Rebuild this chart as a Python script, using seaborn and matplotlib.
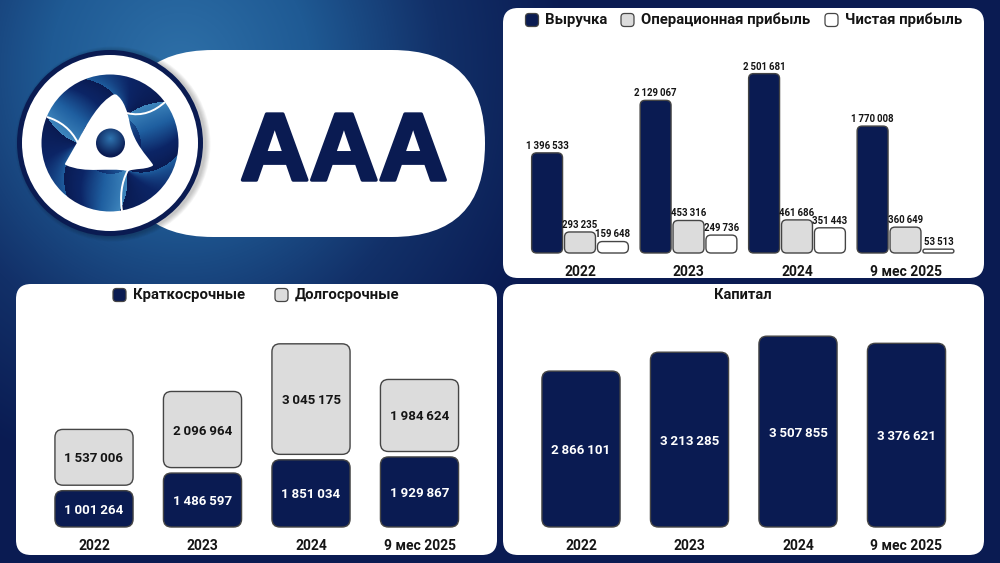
import numpy as np
import pandas as pd
import seaborn as sns
import matplotlib.pyplot as plt
import matplotlib.patheffects as pe
from matplotlib.colors import LinearSegmentedColormap
from matplotlib.patches import Circle, FancyBboxPatch, PathPatch
from matplotlib.path import Path

# Data
periods = ['2022', '2023', '2024', '9 мес 2025']
revenue = [1396533, 2129067, 2501681, 1770008]
op_profit = [293235, 453316, 461686, 360649]
net_profit = [159648, 249736, 351443, 53513]
short_term = [1001264, 1486597, 1851034, 1929867]
long_term = [1537006, 2096964, 3045175, 1984624]
capital = [2866101, 3213285, 3507855, 3376621]

NAVY = '#0a1b52'
GRAY = '#dcdcdc'
EDGE = '#454545'
FONT = 'Roboto'

sns.set_theme(style='white')
plt.rcParams['font.family'] = [FONT, 'DejaVu Sans']

fig = plt.figure(figsize=(10, 5.63), dpi=100)
W, H = 1000, 563


def px_axes(left, top, right, bottom):
    # axes from pixel box, y counted from top of the picture
    a = fig.add_axes([left / W, 1 - bottom / H, (right - left) / W, (bottom - top) / H])
    a.patch.set_alpha(0)
    return a


def fmt(v):
    return f'{int(round(v)):,}'.replace(',', '\u2009')


def round_box(a, x, y, w, h, r, **kw):
    a.add_patch(FancyBboxPatch((x, y), w, h, boxstyle=f'round,pad=0,rounding_size={r}', **kw))


# Background
bg = px_axes(0, 0, W, H)
bg.set_axis_off()
yy, xx = np.mgrid[0:H, 0:W]
dist = np.sqrt(((xx - 180) / 390) ** 2 + ((yy - 70) / 420) ** 2)
back_cmap = LinearSegmentedColormap.from_list('back', ['#2e70a8', '#1f5a94', '#123068', NAVY])
bg.imshow(np.clip(dist, 0, 1), cmap=back_cmap, extent=(0, W, H, 0), aspect='auto', vmin=0, vmax=1, zorder=0)

# Panels
for x0, y0, x1, y1 in [(503, 8, 984, 278), (16, 284, 497, 555), (503, 284, 984, 555)]:
    round_box(bg, x0, y0, x1 - x0, y1 - y0, 15, fc='white', ec='none', zorder=1)

# White pill with the name
round_box(bg, 120, 50, 365, 187, 93, fc='white', ec='none', zorder=1)
bg.text(344, 180, 'AAA', color=NAVY, fontsize=69, fontweight='bold', ha='center', va='baseline',
        family='Liberation Sans', zorder=2,
        path_effects=[pe.withStroke(linewidth=2.5, foreground=NAVY)])

# Logo
for i in range(6):
    bg.add_patch(Circle((113, 144), 93 + i * 0.9, fc='black', ec='none', alpha=0.04, zorder=2))
bg.add_patch(Circle((110, 143), 93, fc=NAVY, ec='none', zorder=3))
bg.add_patch(Circle((110, 143), 88, fc='white', ec='none', zorder=4))

# three swirling blades, each going light to dark twice between the white lines
dx, dy = xx - 110.0, yy - 143.0
rad = np.hypot(dx, dy)
theta = np.degrees(np.arctan2(dy, dx))
sep = 160.2 + 0.62 * rad
edge = -21.6 - 1.3 * rad
f = (theta - sep) % 120
bf = (edge - sep) % 120
blade = np.where(f < bf, f / bf, 0.35 + 0.65 * (f - bf) / (120 - bf))
logo_cmap = LinearSegmentedColormap.from_list('logo', ['#3f86bd', '#1f5fa0', '#0c2566', NAVY])
disk = bg.imshow(blade, cmap=logo_cmap, extent=(0, W, H, 0), aspect='auto', vmin=0, vmax=1, zorder=5)
disk.set_clip_path(Circle((110, 143), 68.5, transform=bg.transData))

trefoil = Path(
    [(115, 95), (123, 100), (127, 113), (129, 125), (134, 145), (145, 155), (152, 165),
     (144, 169), (136, 167), (128, 170), (108, 166), (86, 173), (66, 164),
     (70, 157), (74, 150), (78, 143), (88, 124), (100, 102), (115, 95)],
    [Path.MOVETO] + [Path.CURVE4] * 18)
bg.add_patch(PathPatch(trefoil, fc='white', ec='white', lw=1.5, joinstyle='round', zorder=6))
for pts in [[(47, 117), (60, 121), (71, 129), (78, 143)],
            [(127, 113), (142, 117), (155, 111), (165, 102)],
            [(128, 170), (121, 183), (120, 197), (122, 211)]]:
    bg.add_patch(PathPatch(Path(pts, [Path.MOVETO] + [Path.CURVE4] * 3), fc='none', ec='white', lw=1.4, zorder=6))

sphere_r = np.hypot(xx - 110.0, yy - 138.0) / 17
sphere = bg.imshow(np.clip(sphere_r, 0, 1), cmap=LinearSegmentedColormap.from_list('sph', ['#2f74b0', NAVY]),
                   extent=(0, W, H, 0), aspect='auto', vmin=0, vmax=1, zorder=7)
sphere.set_clip_path(Circle((110.5, 143), 14.5, transform=bg.transData))

bg.set_xlim(0, W)
bg.set_ylim(H, 0)


# Legends and title
def legend_item(x, y, color, label, text_x):
    round_box(bg, x, y - 6.5, 13, 13, 3.5, fc=color, ec=EDGE, lw=0.9, zorder=3)
    bg.text(text_x, y, label, color='#151515', fontsize=10.7, fontweight='bold', ha='left', va='center', zorder=3)


legend_item(525.5, 20, NAVY, 'Выручка', 545)
legend_item(621, 20, GRAY, 'Операционная прибыль', 641)
legend_item(825, 20, 'white', 'Чистая прибыль', 845)
legend_item(113, 295, NAVY, 'Краткосрочные', 133)
legend_item(275, 295, GRAY, 'Долгосрочные', 295)
bg.text(743, 295, 'Капитал', color='#151515', fontsize=10.5, fontweight='bold', ha='center', va='center', zorder=3)


def finish_axes(a, ymax, pad=7):
    a.set_xlim(-0.5, len(periods) - 0.5)
    a.set_ylim(0, ymax)
    a.set_xlabel('')
    a.set_ylabel('')
    a.set_yticks([])
    a.tick_params(axis='x', length=0, pad=pad)
    for tick in a.get_xticklabels():
        tick.set_fontsize(10)
        tick.set_fontweight('bold')
        tick.set_color('#151515')
    sns.despine(ax=a, left=True, bottom=True)


def round_bars(a, bars, r_px=5):
    # swap the square bars for rounded ones of the same size
    bb = a.get_window_extent()
    x0, x1 = a.get_xlim()
    y0, y1 = a.get_ylim()
    ux = (x1 - x0) / bb.width
    uy = (y1 - y0) / bb.height
    for b in bars:
        x, y, w, h = b.get_x(), b.get_y(), b.get_width(), b.get_height()
        r = min(r_px, w / ux / 2, h / uy / 2) * ux
        a.add_patch(FancyBboxPatch((x, y), w, h, boxstyle=f'round,pad=0,rounding_size={r}',
                                   mutation_aspect=uy / ux, fc=b.get_facecolor(),
                                   ec=EDGE, lw=1.0, clip_on=False))
        b.set_visible(False)


# Revenue and profit
ax1 = px_axes(525.75, 30, 959.75, 253)
df1 = pd.DataFrame({
    'period': periods * 3,
    'metric': ['Выручка'] * 4 + ['Операционная прибыль'] * 4 + ['Чистая прибыль'] * 4,
    'value': revenue + op_profit + net_profit,
})
sns.barplot(data=df1, x='period', y='value', hue='metric', palette=[NAVY, GRAY, 'white'],
            saturation=1, width=0.91, gap=0.06, legend=False, ax=ax1)
finish_axes(ax1, 3110000, pad=9)
bars1 = [b for c in ax1.containers for b in c]
round_bars(ax1, bars1)
for b in bars1:
    ax1.annotate(fmt(b.get_height()), (b.get_x() + b.get_width() / 2, b.get_height()),
                 xytext=(0, 1.5), textcoords='offset points', ha='center', va='bottom',
                 fontsize=6.9, fontweight='bold', color='#151515')

# Short and long term, stacked with a small gap
STACK_GAP = 150000
ax2 = px_axes(39.75, 310, 473.75, 527)
sns.barplot(x=periods, y=short_term, color=NAVY, saturation=1, width=0.72, ax=ax2)
n_short = len(ax2.patches)
sns.barplot(x=periods, y=long_term, color=GRAY, saturation=1, width=0.72, ax=ax2)
finish_axes(ax2, 5978000, pad=9)
bars_short = list(ax2.patches[:n_short])
bars_long = list(ax2.patches[n_short:])
for b_s, b_l in zip(bars_short, bars_long):
    b_l.set_y(b_s.get_height() + STACK_GAP)
round_bars(ax2, bars_short + bars_long, r_px=8)
for b, col in [(b, 'white') for b in bars_short] + [(b, '#151515') for b in bars_long]:
    ax2.text(b.get_x() + b.get_width() / 2, b.get_y() + b.get_height() / 2, fmt(b.get_height()),
             ha='center', va='center_baseline', fontsize=9.6, fontweight='bold', color=col)

# Capital
ax3 = px_axes(526.75, 310, 960.75, 527)
sns.barplot(x=periods, y=capital, color=NAVY, saturation=1, width=0.72, ax=ax3)
finish_axes(ax3, 3989000, pad=9)
bars3 = list(ax3.patches)
round_bars(ax3, bars3, r_px=8)
for b in bars3:
    ax3.text(b.get_x() + b.get_width() / 2, b.get_height() / 2, fmt(b.get_height()),
             ha='center', va='center_baseline', fontsize=9.6, fontweight='bold', color='white')

fig.savefig('out.png', dpi=100)
